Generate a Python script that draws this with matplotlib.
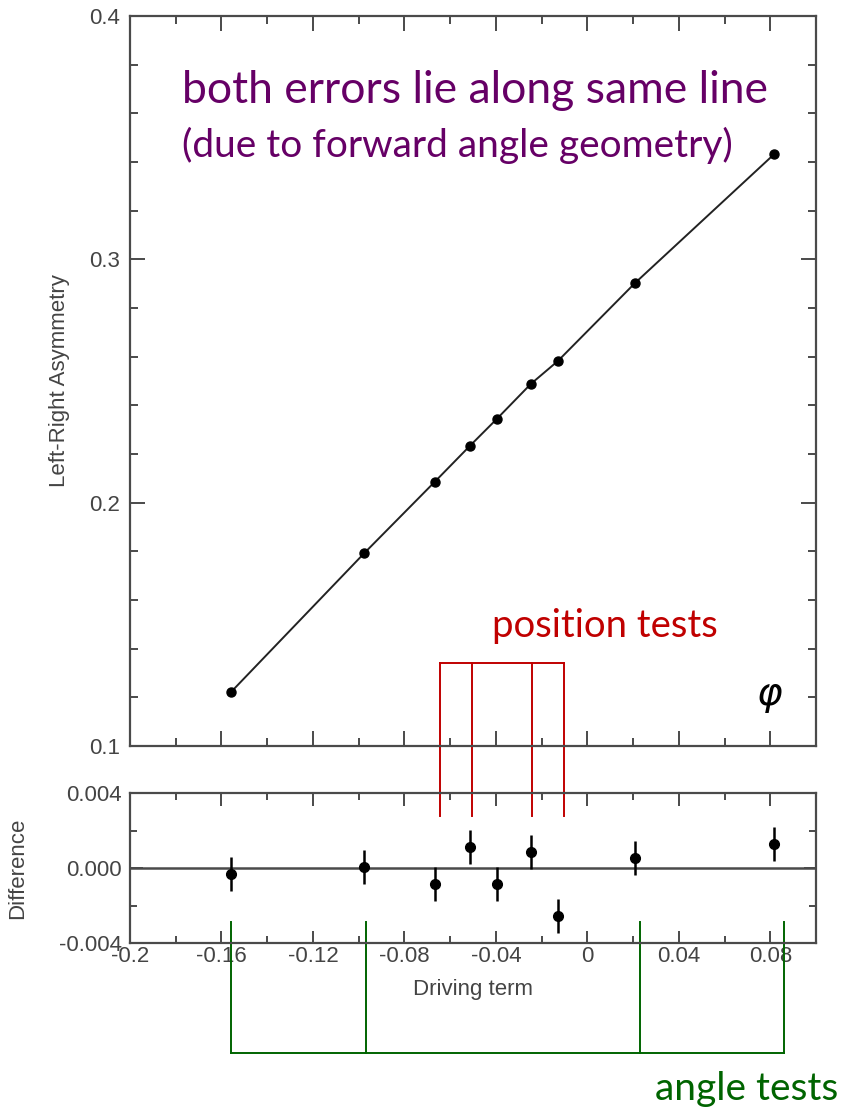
import matplotlib
matplotlib.use('Agg')
import matplotlib.pyplot as plt
from matplotlib.ticker import MultipleLocator, FixedLocator, FixedFormatter

# driving term vs left-right asymmetry
drive = [-0.156, -0.0975, -0.0668, -0.0514, -0.0396, -0.0247, -0.0129, 0.0209, 0.0818]
asym = [0.122, 0.1793, 0.2085, 0.2233, 0.2344, 0.2488, 0.2582, 0.2903, 0.3433]

# residuals (lower panel)
diff = [-0.00032, 0.00005, -0.00085, 0.00112, -0.00085, 0.00085, -0.00256, 0.00053, 0.0013]
diff_err = [0.0009, 0.0009, 0.0009, 0.0009, 0.0009, 0.0009, 0.0009, 0.0009, 0.0009]

xticks = [-0.2, -0.16, -0.12, -0.08, -0.04, 0, 0.04, 0.08]
xtick_labels = ['-0.2', '-0.16', '-0.12', '-0.08', '-0.04', '0', '0.04', '0.08']
yticks_top = [0.1, 0.2, 0.3, 0.4]
ytick_labels_top = ['0.1', '0.2', '0.3', '0.4']
yticks_bot = [-0.004, 0.0, 0.004]
ytick_labels_bot = ['-0.004', '0.000', '0.004']

# annotation brackets (data units)
pos_x = [-0.0646, -0.0506, -0.0243, -0.0103]
pos_top, pos_bot = 0.1341, 0.0712
ang_x = [-0.1557, -0.0966, 0.0230, 0.0861]
ang_top, ang_bot = -0.0029, -0.00987

W, H = 844, 1110
AX = '#4a4a4a'
TXT = '#444444'

plt.rcParams['font.family'] = ['Liberation Sans', 'DejaVu Sans']

fig = plt.figure(figsize=(W / 100, H / 100), dpi=100)
ax1 = fig.add_axes([130 / W, 1 - 746 / H, 686 / W, 730 / H])
ax2 = fig.add_axes([130 / W, 1 - 943 / H, 686 / W, 150 / H])
ax2.patch.set_alpha(0)


def style(ax, major, minor, pad):
    for s in ax.spines.values():
        s.set_color(AX)
        s.set_linewidth(1.6)
    ax.tick_params(which='both', direction='in', top=True, right=True,
                   color=AX, width=1.4, labelcolor=TXT, labelsize=16)
    ax.tick_params(which='major', length=major)
    ax.tick_params(which='minor', length=minor)
    ax.tick_params(axis='y', pad=pad)


ax1.plot(drive, asym, color='#222222', lw=1.4, marker='o', ms=6.5,
         mfc='black', mec='black')
ax1.set_xlim(-0.2, 0.1)
ax1.set_ylim(0.1, 0.4)
ax1.xaxis.set_major_locator(FixedLocator(xticks))
ax1.xaxis.set_minor_locator(MultipleLocator(0.02))
ax1.set_xticklabels([])
ax1.yaxis.set_major_locator(FixedLocator(yticks_top))
ax1.yaxis.set_major_formatter(FixedFormatter(ytick_labels_top))
ax1.yaxis.set_minor_locator(MultipleLocator(0.02))
style(ax1, 11, 6, 7)
ax1.set_ylabel('Left-Right Asymmetry', fontsize=16, color=TXT)
ax1.yaxis.set_label_coords(-0.0875, 0.5)

ax2.axhline(0, color=AX, lw=1.8, zorder=1)
ax2.errorbar(drive, diff, yerr=diff_err, fmt='o', color='black', ms=7,
             elinewidth=1.8, capsize=0, zorder=3)
ax2.set_xlim(-0.2, 0.1)
ax2.set_ylim(-0.004, 0.004)
ax2.xaxis.set_major_locator(FixedLocator(xticks))
ax2.xaxis.set_major_formatter(FixedFormatter(xtick_labels))
ax2.xaxis.set_minor_locator(MultipleLocator(0.02))
ax2.yaxis.set_major_locator(FixedLocator(yticks_bot))
ax2.yaxis.set_major_formatter(FixedFormatter(ytick_labels_bot))
ax2.yaxis.set_minor_locator(MultipleLocator(0.002))
style(ax2, 9, 5, 6)
ax2.tick_params(axis='x', pad=2)
ax2.set_ylabel('Difference', fontsize=16, color=TXT)
ax2.yaxis.set_label_coords(-0.1487, 0.5)
ax2.set_xlabel('Driving term', fontsize=16, color=TXT)
ax2.xaxis.set_label_coords(0.5, -0.24)

# position tests bracket
red = '#c00000'
ax1.plot([pos_x[0], pos_x[-1]], [pos_top, pos_top], color=red, lw=1.4, clip_on=False)
for x in pos_x:
    ax1.plot([x, x], [pos_top, pos_bot], color=red, lw=1.4, clip_on=False)

# angle tests bracket
green = '#006400'
ax2.plot([ang_x[0], ang_x[-1]], [ang_bot, ang_bot], color=green, lw=1.4, clip_on=False)
for x in ang_x:
    ax2.plot([x, x], [ang_top, ang_bot], color=green, lw=1.4, clip_on=False)

purple = '#660066'
fig.text(182 / W, 1 - 103 / H, 'both errors lie along same line', color=purple,
         fontsize=32, family='Lato', va='baseline', ha='left')
fig.text(182 / W, 1 - 157 / H, '(due to forward angle geometry)', color=purple,
         fontsize=28, family='Lato', va='baseline', ha='left')
fig.text(492 / W, 1 - 637 / H, 'position tests', color=red,
         fontsize=27.5, family='Lato', va='baseline', ha='left')
fig.text(655 / W, 1 - 1100 / H, 'angle tests', color=green,
         fontsize=28, family='Lato', va='baseline', ha='left')
fig.text(770 / W, 1 - 697 / H, r'$\varphi$', color='black',
         fontsize=28, va='center', ha='center')

fig.savefig('out.png', dpi=100)
